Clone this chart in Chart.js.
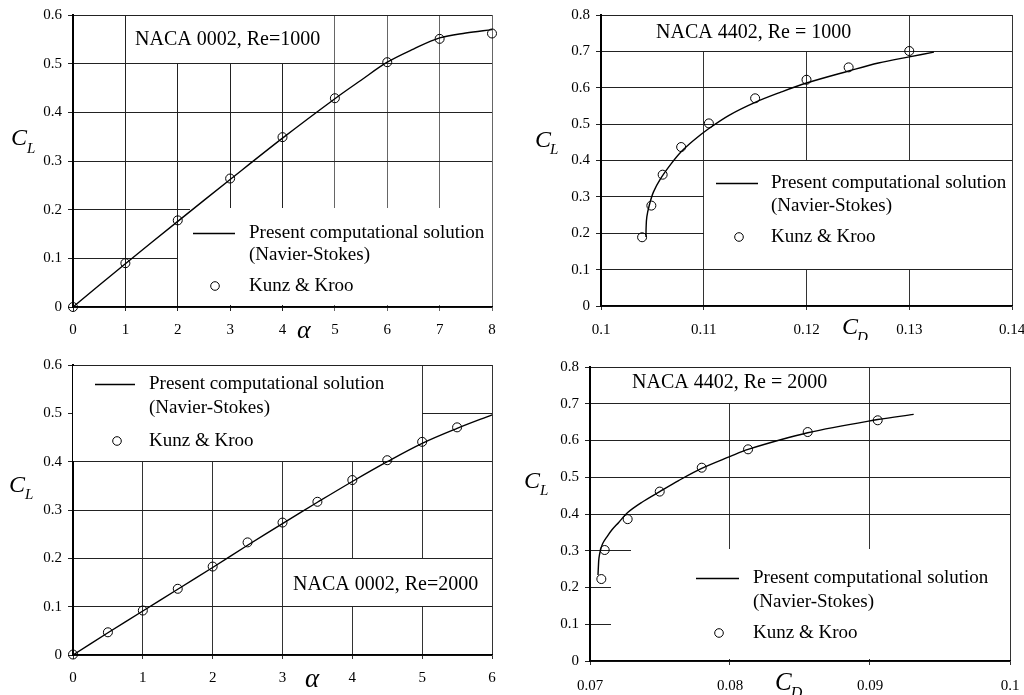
<!DOCTYPE html>
<html>
<head>
<meta charset="utf-8">
<script src="https://cdn.jsdelivr.net/npm/chart.js@4/dist/chart.umd.min.js"></script>
<style>
html,body{margin:0;padding:0;background:#fff;}
body{width:1024px;height:695px;position:relative;overflow:hidden;}
.p{position:absolute;}
</style>
</head>
<body>
<div class="p" style="left:0;top:0;width:505px;height:340px"><canvas id="c1"></canvas></div>
<div class="p" style="left:512px;top:0;width:512px;height:340px"><canvas id="c2"></canvas></div>
<div class="p" style="left:0;top:340px;width:505px;height:355px"><canvas id="c3"></canvas></div>
<div class="p" style="left:512px;top:340px;width:512px;height:355px"><canvas id="c4"></canvas></div>
<script>
// ---------- Data ----------
const nsLegendLines = ['Present computational solution', '(Navier-Stokes)'];
const kkLabel = 'Kunz & Kroo';

// Panel 1: NACA 0002, Re=1000 (CL vs alpha)
const p1Title = 'NACA 0002, Re=1000';
const p1KunzAlpha = [0, 1, 2, 3, 4, 5, 6, 7, 8];
const p1KunzCL = [0, 0.090, 0.178, 0.264, 0.349, 0.429, 0.503, 0.551, 0.562];
const p1NsAlpha = [0, 1, 2, 3, 4, 5, 5.5, 6, 6.5, 7, 7.5, 8];
const p1NsCL = [0, 0.089, 0.176, 0.262, 0.347, 0.428, 0.466, 0.503, 0.530, 0.553, 0.563, 0.570];
const p1XTicks = [0, 1, 2, 3, 4, 5, 6, 7, 8];
const p1XLabels = ['0', '1', '2', '3', '4', '5', '6', '7', '8'];
const p1YTicks = [0, 0.1, 0.2, 0.3, 0.4, 0.5, 0.6];
const p1YLabels = ['0', '0.1', '0.2', '0.3', '0.4', '0.5', '0.6'];

// Panel 2: NACA 4402, Re = 1000 (CL vs CD)
const p2Title = 'NACA 4402, Re = 1000';
const p2KunzCD = [0.1040, 0.1049, 0.1060, 0.1078, 0.1105, 0.1150, 0.1200, 0.1241, 0.1300];
const p2KunzCL = [0.189, 0.276, 0.361, 0.437, 0.502, 0.571, 0.622, 0.656, 0.701];
const p2NsCD = [0.10438, 0.10439, 0.10446, 0.10470, 0.1051, 0.1058, 0.1068, 0.1078, 0.1090, 0.1105, 0.1125, 0.1150, 0.1175, 0.1200, 0.1241, 0.1270, 0.1300, 0.1324];
const p2NsCL = [0.190, 0.215, 0.245, 0.277, 0.313, 0.350, 0.390, 0.424, 0.455, 0.488, 0.525, 0.560, 0.588, 0.613, 0.646, 0.668, 0.685, 0.698];
const p2XTicks = [0.10, 0.11, 0.12, 0.13, 0.14];
const p2XLabels = ['0.1', '0.11', '0.12', '0.13', '0.14'];
const p2YTicks = [0, 0.1, 0.2, 0.3, 0.4, 0.5, 0.6, 0.7, 0.8];
const p2YLabels = ['0', '0.1', '0.2', '0.3', '0.4', '0.5', '0.6', '0.7', '0.8'];

// Panel 3: NACA 0002, Re=2000 (CL vs alpha)
const p3Title = 'NACA 0002, Re=2000';
const p3KunzAlpha = [0, 0.5, 1, 1.5, 2, 2.5, 3, 3.5, 4, 4.5, 5, 5.5];
const p3KunzCL = [0.001, 0.047, 0.092, 0.137, 0.183, 0.233, 0.274, 0.317, 0.362, 0.403, 0.441, 0.471];
const p3NsAlpha = [0, 0.5, 1, 1.5, 2, 2.5, 3, 3.5, 4, 4.5, 5, 5.5, 6];
const p3NsCL = [0, 0.046, 0.091, 0.136, 0.181, 0.227, 0.272, 0.316, 0.359, 0.400, 0.438, 0.469, 0.497];
const p3XTicks = [0, 1, 2, 3, 4, 5, 6];
const p3XLabels = ['0', '1', '2', '3', '4', '5', '6'];
const p3YTicks = [0, 0.1, 0.2, 0.3, 0.4, 0.5, 0.6];
const p3YLabels = ['0', '0.1', '0.2', '0.3', '0.4', '0.5', '0.6'];

// Panel 4: NACA 4402, Re = 2000 (CL vs CD)
const p4Title = 'NACA 4402, Re = 2000';
const p4KunzCD = [0.07081, 0.07105, 0.07269, 0.07498, 0.07798, 0.08129, 0.08555, 0.09055];
const p4KunzCL = [0.223, 0.302, 0.386, 0.461, 0.526, 0.576, 0.623, 0.655];
const p4NsCD = [0.07057, 0.07060, 0.07064, 0.07074, 0.07090, 0.07121, 0.07157, 0.07205, 0.07269, 0.07371, 0.07498, 0.07633, 0.07798, 0.07998, 0.08129, 0.08555, 0.09055, 0.09312];
const p4NsCL = [0.234, 0.257, 0.280, 0.300, 0.319, 0.338, 0.357, 0.377, 0.404, 0.432, 0.461, 0.491, 0.524, 0.556, 0.576, 0.621, 0.657, 0.671];
const p4XTicks = [0.07, 0.08, 0.09, 0.10];
const p4XLabels = ['0.07', '0.08', '0.09', '0.1'];
const p4YTicks = [0, 0.1, 0.2, 0.3, 0.4, 0.5, 0.6, 0.7, 0.8];
const p4YLabels = ['0', '0.1', '0.2', '0.3', '0.4', '0.5', '0.6', '0.7', '0.8'];

// ---------- Rendering ----------
const SERIF = "'Liberation Serif', 'Times New Roman', serif";
Chart.defaults.font.family = SERIF;
Chart.defaults.color = '#000';

const zip = (xs, ys) => xs.map((x, i) => ({ x: x, y: ys[i] }));

function linePix(scale, v) { return Math.round(scale.getPixelForValue(v) - 0.5); }

const decorPlugin = {
  id: 'decor',
  beforeDatasetsDraw(chart, args, o) {
    const ctx = chart.ctx, xs = chart.scales.x, ys = chart.scales.y;
    ctx.save();
    // white boxes that hide the grid
    ctx.fillStyle = '#fff';
    (o.boxes || []).forEach(b => {
      const x1 = linePix(xs, b.x0) + 1 + (b.dl || 0);
      const x2 = linePix(xs, b.x1) + (b.dr || 0);
      const y1 = linePix(ys, b.y1) + 1 + (b.dt || 0);
      const y2 = linePix(ys, b.y0) + (b.db || 0);
      ctx.fillRect(x1, y1, x2 - x1, y2 - y1);
    });
    ctx.fillStyle = '#000';
    ctx.textBaseline = 'middle';
    ctx.textAlign = 'left';
    // title
    if (o.title) {
      ctx.font = '20px ' + SERIF;
      ctx.fillText(o.title.text, o.title.x, o.title.y);
    }
    // legend
    if (o.legend) {
      const L = o.legend;
      const ds = chart.data.datasets;
      ctx.strokeStyle = '#000';
      ctx.lineWidth = 1.6;
      ctx.beginPath();
      ctx.moveTo(L.lx0, L.y1 + 0.5); ctx.lineTo(L.lx1, L.y1 + 0.5);
      ctx.stroke();
      ctx.lineWidth = 1;
      ctx.beginPath();
      ctx.arc(L.cx, L.y3, 4.3, 0, Math.PI * 2);
      ctx.stroke();
      ctx.font = '19px ' + SERIF;
      const lines = ds[0].legendLines;
      ctx.fillText(lines[0], L.tx, L.y1);
      ctx.fillText(lines[1], L.tx, L.y2);
      ctx.fillText(ds[1].label, L.tx, L.y3);
    }
    // axis titles
    ctx.textBaseline = 'alphabetic';
    (o.axisTitles || []).forEach(t => {
      ctx.font = 'italic ' + t.size + 'px ' + SERIF;
      ctx.fillText(t.main, t.x, t.y);
      if (t.sub) {
        const w = ctx.measureText(t.main).width;
        ctx.font = 'italic ' + t.subSize + 'px ' + SERIF;
        ctx.fillText(t.sub, t.x + w + (t.subDx || 0), t.y + t.subDy);
      }
    });
    ctx.restore();
  }
};

function makeChart(id, c) {
  return new Chart(document.getElementById(id), {
    type: 'scatter',
    data: {
      datasets: [
        {
          label: nsLegendLines.join(' '),
          legendLines: nsLegendLines,
          data: zip(c.nsX, c.nsY),
          showLine: true,
          borderColor: '#000',
          borderWidth: 1.4,
          pointRadius: 0,
          tension: 0.35,
          fill: false,
          clip: false
        },
        {
          label: kkLabel,
          data: zip(c.kkX, c.kkY),
          showLine: false,
          pointRadius: 4.5,
          pointStyle: 'circle',
          borderColor: '#000',
          borderWidth: 1,
          backgroundColor: 'rgba(255,255,255,0)',
          clip: false
        }
      ]
    },
    options: {
      responsive: true,
      maintainAspectRatio: false,
      animation: false,
      events: [],
      layout: { padding: { left: 0, right: c.padRight, top: c.padTop, bottom: 0 } },
      plugins: { legend: { display: false }, tooltip: { enabled: false }, decor: c.decor },
      scales: {
        x: {
          type: 'linear',
          min: c.xTicks[0], max: c.xTicks[c.xTicks.length - 1],
          afterBuildTicks: s => { s.ticks = c.xTicks.map(v => ({ value: v })); },
          afterFit: s => { s.height = c.xAxisH; s.paddingLeft = 0; s.paddingRight = 0; },
          ticks: {
            callback: (v, i) => c.xLabels[i],
            font: { size: 15, family: SERIF },
            color: '#000', padding: c.xPad, maxRotation: 0, autoSkip: false
          },
          grid: { color: c.xGridColor || '#333', lineWidth: 1, tickLength: 4, drawTicks: true },
          border: { color: '#000', width: 1.5 }
        },
        y: {
          type: 'linear',
          min: c.yTicks[0], max: c.yTicks[c.yTicks.length - 1],
          afterBuildTicks: s => { s.ticks = c.yTicks.map(v => ({ value: v })); },
          afterFit: s => { s.width = c.yAxisW; s.paddingTop = 0; s.paddingBottom = 0; },
          ticks: {
            callback: (v, i) => c.yLabels[i],
            font: { size: 15, family: SERIF },
            color: '#000', padding: 6, autoSkip: false
          },
          grid: { color: '#222', lineWidth: 1, tickLength: 5, drawTicks: true },
          border: { color: '#000', width: 2 }
        }
      }
    },
    plugins: [decorPlugin]
  });
}

// Panel 1
makeChart('c1', {
  nsX: p1NsAlpha, nsY: p1NsCL, kkX: p1KunzAlpha, kkY: p1KunzCL,
  xTicks: p1XTicks, xLabels: p1XLabels, yTicks: p1YTicks, yLabels: p1YLabels,
  padRight: 13, padTop: 15, xAxisH: 33, yAxisW: 73, xPad: 10,
  xGridColor: ctx => (ctx.tick && ctx.tick.value > 4 ? '#666' : '#222'),
  decor: {
    boxes: [
      { x0: 1, x1: 5, y0: 0.5, y1: 0.6 },
      { x0: 2, x1: 8, y0: 0, y1: 0.2, db: -2 },
      { x0: 2.22, x1: 8, y0: 0.1, y1: 0.2, dt: -2 }
    ],
    title: { text: p1Title, x: 135, y: 40 },
    legend: { lx0: 193, lx1: 235, tx: 249, y1: 233, y2: 255, y3: 286, cx: 215 },
    axisTitles: [
      { main: 'C', sub: 'L', x: 11, y: 145, size: 24, subSize: 15, subDy: 8, subDx: 0 },
      { main: '\u03B1', x: 297, y: 338, size: 26 }
    ]
  }
});

// Panel 2
makeChart('c2', {
  nsX: p2NsCD, nsY: p2NsCL, kkX: p2KunzCD, kkY: p2KunzCL,
  xTicks: p2XTicks, xLabels: p2XLabels, yTicks: p2YTicks, yLabels: p2YLabels,
  padRight: 12, padTop: 15, xAxisH: 34, yAxisW: 89, xPad: 11,
  decor: {
    boxes: [
      { x0: 0.10, x1: 0.13, y0: 0.7, y1: 0.8 },
      { x0: 0.11, x1: 0.14, y0: 0.1, y1: 0.4 }
    ],
    title: { text: p2Title, x: 144, y: 33 },
    legend: { lx0: 204, lx1: 246, tx: 259, y1: 183, y2: 206, y3: 237, cx: 227 },
    axisTitles: [
      { main: 'C', sub: 'L', x: 23, y: 147, size: 24, subSize: 15, subDy: 7, subDx: -1 },
      { main: 'C', sub: 'D', x: 330, y: 334, size: 24, subSize: 15, subDy: 8, subDx: -1 }
    ]
  }
});

// Panel 3
makeChart('c3', {
  nsX: p3NsAlpha, nsY: p3NsCL, kkX: p3KunzAlpha, kkY: p3KunzCL,
  xTicks: p3XTicks, xLabels: p3XLabels, yTicks: p3YTicks, yLabels: p3YLabels,
  padRight: 13, padTop: 25, xAxisH: 40, yAxisW: 73, xPad: 10,
  decor: {
    boxes: [
      { x0: 0, x1: 5, y0: 0.4, y1: 0.6, dl: -1 },
      { x0: 3, x1: 6, y0: 0.1, y1: 0.2 }
    ],
    title: { text: p3Title, x: 293, y: 245 },
    legend: { lx0: 95, lx1: 135, tx: 149, y1: 44, y2: 68, y3: 101, cx: 117 },
    axisTitles: [
      { main: 'C', sub: 'L', x: 9, y: 152, size: 24, subSize: 15, subDy: 7, subDx: 0 },
      { main: '\u03B1', x: 305, y: 347, size: 27 }
    ]
  }
});

// Panel 4
makeChart('c4', {
  nsX: p4NsCD, nsY: p4NsCL, kkX: p4KunzCD, kkY: p4KunzCL,
  xTicks: p4XTicks, xLabels: p4XLabels, yTicks: p4YTicks, yLabels: p4YLabels,
  padRight: 14, padTop: 27, xAxisH: 34, yAxisW: 78, xPad: 12,
  decor: {
    boxes: [
      { x0: 0.07, x1: 0.09, y0: 0.7, y1: 0.8 },
      { x0: 0.0715, x1: 0.10, y0: 0, y1: 0.3, db: -2 },
      { x0: 0.0729, x1: 0.10, y0: 0.2, y1: 0.3, dt: -2 }
    ],
    title: { text: p4Title, x: 120, y: 43 },
    legend: { lx0: 184, lx1: 227, tx: 241, y1: 238, y2: 262, y3: 293, cx: 207 },
    axisTitles: [
      { main: 'C', sub: 'L', x: 12, y: 148, size: 24, subSize: 15, subDy: 7, subDx: 0 },
      { main: 'C', sub: 'D', x: 263, y: 350, size: 25, subSize: 16, subDy: 8, subDx: -1 }
    ]
  }
});
</script>
</body>
</html>
